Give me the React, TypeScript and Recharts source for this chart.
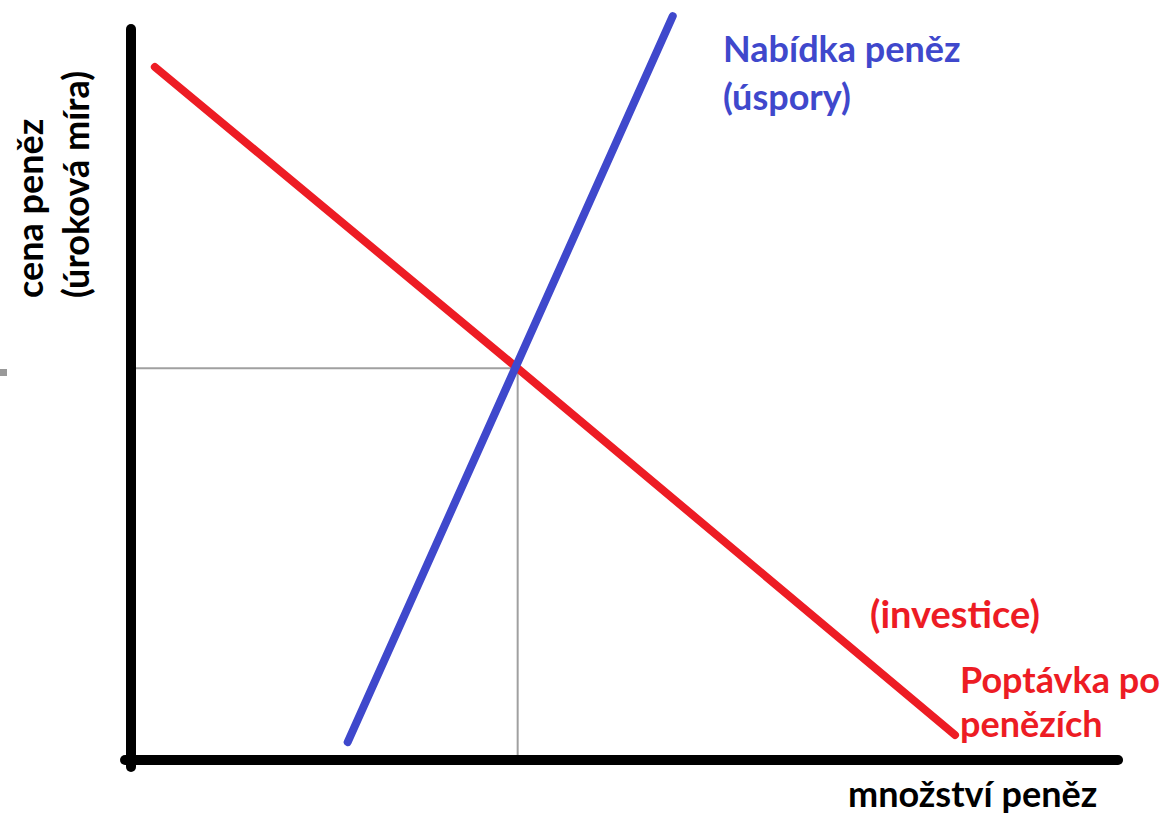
import { LineChart, Line, XAxis, YAxis, ReferenceLine } from "recharts";

const CHART_WIDTH = 1160;
const CHART_HEIGHT = 814;
const RED = "#ed1c24";
const BLUE = "#3f48cc";
const GREY = "#a0a0a0";
const FONT = "Lato, 'Open Sans', sans-serif";
const FONT_SIZE = 36;

// demand for money (investment) – falls as the interest rate rises
const demandX = [2.4, 38.9, 82.9];
const demandY = [92.9, 52.5, 3.35];
// supply of money (savings)
const supplyX = [21.8, 54.5];
const supplyY = [2.4, 99.7];
// equilibrium
const eqX = 38.9;
const eqY = 52.5;

const demand = demandX.map((x, i) => ({ x, y: demandY[i] }));
const supply = supplyX.map((x, i) => ({ x, y: supplyY[i] }));

const labelStyle = { fontFamily: FONT, fontSize: FONT_SIZE, fontWeight: 700 };

export default function App() {
  return (
    <div style={{ position: "absolute", left: 0, top: 0, background: "#fff" }}>
      <div
        style={{
          position: "absolute",
          left: 0,
          top: 369,
          width: 7,
          height: 7,
          background: "#999",
        }}
      />
      <LineChart
        width={CHART_WIDTH}
        height={CHART_HEIGHT}
        margin={{ top: 14, right: 35, bottom: 54, left: 131 }}
      >
        <XAxis type="number" dataKey="x" domain={[0, 100]} hide />
        <YAxis type="number" dataKey="y" domain={[0, 100]} hide />

        <ReferenceLine
          segment={[
            { x: 0.4, y: eqY },
            { x: eqX, y: eqY },
          ]}
          stroke={GREY}
          strokeWidth={2}
          ifOverflow="visible"
        />
        <ReferenceLine
          segment={[
            { x: eqX, y: eqY },
            { x: eqX, y: 0.4 },
          ]}
          stroke={GREY}
          strokeWidth={2}
          ifOverflow="visible"
        />

        <ReferenceLine
          segment={[
            { x: 0, y: 98 },
            { x: 0, y: -0.95 },
          ]}
          stroke="#000"
          strokeWidth={10}
          strokeLinecap="round"
          ifOverflow="visible"
        />
        <ReferenceLine
          segment={[
            { x: -0.6, y: 0 },
            { x: 99.3, y: 0 },
          ]}
          stroke="#000"
          strokeWidth={10}
          strokeLinecap="round"
          ifOverflow="visible"
        />

        <Line
          data={demand}
          dataKey="y"
          type="linear"
          stroke={RED}
          strokeWidth={8}
          strokeLinecap="round"
          dot={false}
          activeDot={false}
          isAnimationActive={false}
        />
        <Line
          data={supply}
          dataKey="y"
          type="linear"
          stroke={BLUE}
          strokeWidth={8}
          strokeLinecap="round"
          dot={false}
          activeDot={false}
          isAnimationActive={false}
        />

        <text x={723} y={62} fill={BLUE} style={labelStyle}>
          Nabídka peněz
        </text>
        <text x={723} y={110} fill={BLUE} style={labelStyle}>
          (úspory)
        </text>
        <text x={870} y={628} fill={RED} style={{ ...labelStyle, fontSize: 38 }}>
          (investice)
        </text>
        <text x={960} y={693} fill={RED} style={labelStyle}>
          Poptávka po
        </text>
        <text x={960} y={737} fill={RED} style={labelStyle}>
          penězích
        </text>
        <text x={848} y={807} fill="#000" style={labelStyle}>
          množství peněz
        </text>
        <text transform="translate(43,298) rotate(-90)" fill="#000" style={labelStyle}>
          cena peněz
        </text>
        <text transform="translate(89,298) rotate(-90)" fill="#000" style={labelStyle}>
          (úroková míra)
        </text>
      </LineChart>
    </div>
  );
}
